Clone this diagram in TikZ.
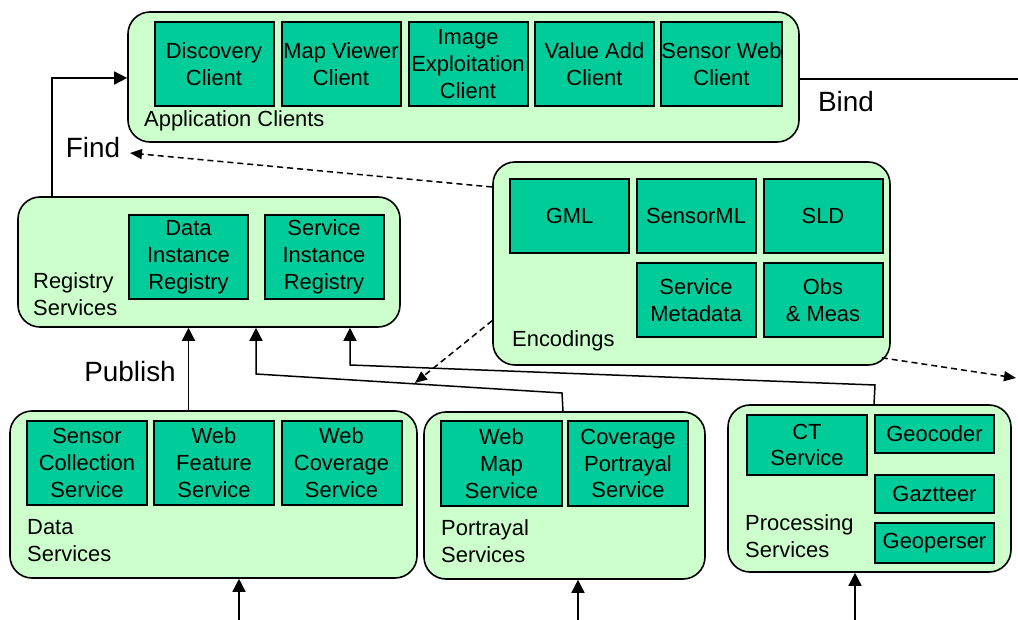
\documentclass[tikz,border=0pt]{standalone}
\usepackage{fontspec}
\setmainfont{Liberation Sans}
\usetikzlibrary{arrows.meta,calc}
\definecolor{grpfill}{RGB}{204,255,204}
\definecolor{boxfill}{RGB}{0,204,153}
\tikzset{
  grp/.style={draw, line width=1.6bp, fill=grpfill, rounded corners=22bp, inner sep=0pt},
  svcbox/.style={draw, line width=2bp, fill=boxfill, inner sep=0pt, align=center, minimum width=119bp},
  lbl/.style={anchor=west, align=left, inner sep=0pt},
  actlbl/.style={font=\fontsize{28}{32}\selectfont, inner sep=0pt},
  arr/.style={line width=1.5bp, -{Triangle[length=13bp,width=13bp]}},
  dasharr/.style={line width=1.5bp, dash pattern=on 6bp off 4bp, -{Triangle[length=12bp,width=10bp]}}
}
\begin{document}
\begin{tikzpicture}[x=1bp, y=-1bp, font=\fontsize{22}{27}\selectfont]
  \useasboundingbox (0,0) rectangle (1018,620);

  % Application clients along the top
  \node[grp, minimum width=671bp, minimum height=130bp] (app) at (463.5,77) {};
  \foreach \n/\x/\txt in {disc/214/{Discovery\\Client}, mapv/341/{Map Viewer\\Client},
      imgx/468/{Image\\Exploitation\\Client}, vadd/594.5/{Value Add\\Client}, swc/721.5/{Sensor Web\\Client}} {
    \node[svcbox, minimum height=84bp] (\n) at (\x,64) {\txt};
  }
  \node[lbl] (applbl) at (144,121) {Application Clients};

  % Registry services
  \node[grp, minimum width=382bp, minimum height=130bp] (reg) at (209,262) {};
  \node[svcbox, minimum height=84bp] (dir) at (188.5,257) {Data\\Instance\\Registry};
  \node[svcbox, minimum height=84bp] (sir) at (324,257) {Service\\Instance\\Registry};
  \node[lbl] (reglbl) at (33,294) {Registry\\Services};

  % Encodings
  \node[grp, minimum width=397bp, minimum height=203bp] (enc) at (691.5,263.5) {};
  \node[svcbox, minimum height=74bp] (gml) at (569.5,216) {GML};
  \node[svcbox, minimum height=74bp] (sml) at (696,216) {SensorML};
  \node[svcbox, minimum height=74bp] (sld) at (823,216) {SLD};
  \node[svcbox, minimum height=74bp] (smeta) at (696,300) {Service\\Metadata};
  \node[svcbox, minimum height=74bp] (om) at (823,300) {Obs\\\& Meas};
  \node[lbl] (enclbl) at (512,341) {Encodings};

  % Data services
  \node[grp, minimum width=407bp, minimum height=167bp] (data) at (213.5,494.5) {};
  \foreach \n/\x/\txt in {scs/87/{Sensor\\Collection\\Service}, wfs/214/{Web\\Feature\\Service},
      wcs/341.5/{Web\\Coverage\\Service}} {
    \node[svcbox, minimum width=120bp, minimum height=84bp] (\n) at (\x,463) {\txt};
  }
  \node[lbl] (datalbl) at (27,541) {Data\\Services};

  % Portrayal services
  \node[grp, minimum width=281bp, minimum height=167bp] (port) at (564.5,495.5) {};
  \node[svcbox, minimum width=121bp, minimum height=85bp] (wms) at (501.5,463.5) {Web\\Map\\Service};
  \node[svcbox, minimum width=120bp, minimum height=85bp] (cps) at (628,463.5) {Coverage\\Portrayal\\Service};
  \node[lbl] (portlbl) at (441,541) {Portrayal\\Services};

  % Processing services
  \node[grp, minimum width=283bp, minimum height=167bp] (proc) at (869.5,488.5) {};
  \node[svcbox, minimum width=120bp, minimum height=60bp] (cts) at (807,445) {CT\\Service};
  \node[svcbox, minimum height=38bp] (geoc) at (934.5,434) {Geocoder};
  \node[svcbox, minimum height=38bp] (gaz) at (934.5,494) {Gaztteer};
  \node[svcbox, minimum height=40bp] (geop) at (934.5,543) {Geoperser};
  \node[lbl] (proclbl) at (745,536) {Processing\\Services};

  % Find, Bind, Publish
  \node[actlbl] (find) at (93,148) {Find};
  \node[actlbl] (bind) at (846,102) {Bind};
  \node[actlbl] (publish) at (130,372) {Publish};

  % Find and bind connectors
  \coordinate (findcorner) at (52,78);
  \draw[arr] (findcorner |- reg.north) -- (findcorner) -- (findcorner -| app.west);
  \coordinate (bindend) at (1018,79);
  \draw[line width=1.5bp] (app.east |- bindend) -- (bindend);
  \coordinate (findtip) at (130,153);
  \draw[dasharr] (enc.159) -- (findtip);
  \coordinate (pubtip) at (415,383);
  \draw[dasharr] (enc.196) -- (pubtip);
  \coordinate (righttip) at (1016,378);
  \draw[dasharr] ($(enc.south east)+(-9,-8)$) -- (righttip);

  % Publish routes up into the registry
  \draw[arr] (dir |- data.north) -- (dir |- reg.south);
  \coordinate (k2a) at (562,393);
  \coordinate (k2b) at (256,374);
  \draw[arr] (wms.east |- port.north) -- (k2a) -- (k2b) -- (k2b |- reg.south);
  \coordinate (k3a) at (875,385);
  \coordinate (k3b) at (350,365);
  \draw[arr] (geoc.west |- proc.north) -- (k3a) -- (k3b) -- (k3b |- reg.south);

  % Inputs from below
  \coordinate (b1) at (239,620);
  \coordinate (b2) at (578,620);
  \coordinate (b3) at (855,620);
  \draw[arr] (b1) -- (b1 |- data.south);
  \draw[arr] (b2) -- (b2 |- port.south);
  \draw[arr] (b3) -- (b3 |- proc.south);
\end{tikzpicture}
\end{document}
